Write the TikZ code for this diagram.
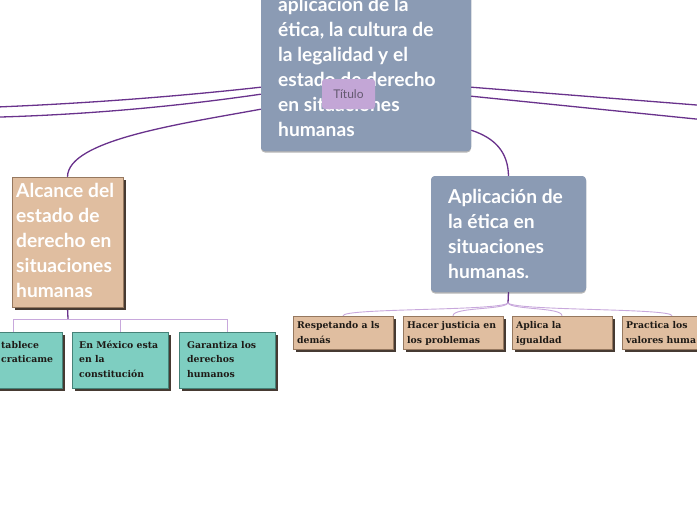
\documentclass[tikz,border=0pt]{standalone}
\usepackage{fontspec}
\newfontfamily\headfont{Lato}
\newfontfamily\leaffont{DejaVu Serif}
\usetikzlibrary{calc,shadows}
\definecolor{slate}{RGB}{139,155,180}
\definecolor{tanfill}{RGB}{224,190,160}
\definecolor{tanedge}{RGB}{150,120,95}
\definecolor{tealfill}{RGB}{126,206,193}
\definecolor{tealedge}{RGB}{70,130,120}
\definecolor{shadowc}{RGB}{70,58,50}
\definecolor{lineviolet}{RGB}{105,50,140}
\definecolor{lightviolet}{RGB}{200,168,220}
\definecolor{tagfill}{RGB}{195,166,214}
\definecolor{tagtext}{RGB}{100,90,112}
\definecolor{leafink}{RGB}{30,26,22}
\tikzset{
  slatebox/.style={fill=slate, rounded corners=4pt, draw=none, inner sep=0pt,
    drop shadow={shadow xshift=0pt, shadow yshift=-1.5pt, opacity=0.15, fill=black}},
  tanbig/.style={fill=tanfill, draw=tanedge, line width=0.5pt, inner sep=0pt,
    drop shadow={shadow xshift=3pt, shadow yshift=-3pt, opacity=1, fill=shadowc}},
  tanleaf/.style={fill=tanfill, draw=tanedge, line width=0.5pt, inner sep=0pt,
    drop shadow={shadow xshift=2.5pt, shadow yshift=-2.5pt, opacity=1, fill=shadowc}},
  tealleaf/.style={fill=tealfill, draw=tealedge, line width=0.5pt, inner sep=0pt,
    drop shadow={shadow xshift=2.5pt, shadow yshift=-2.5pt, opacity=1, fill=shadowc}},
  tagbox/.style={fill=tagfill, rounded corners=3pt, inner sep=0pt, text=tagtext,
    font={\headfont\fontsize{12}{14}\selectfont}},
  mainline/.style={draw=lineviolet, line width=1.3pt},
  branch/.style={draw=lightviolet, line width=0.9pt},
  headtxt/.style={font={\headfont\bfseries\fontsize{19.2}{25}\selectfont}, text=white, anchor=base west, inner sep=0pt},
  leaftxt/.style={font={\leaffont\bfseries\fontsize{9.3}{14}\selectfont}, text=leafink, anchor=base west, inner sep=0pt},
}
\begin{document}
\begin{tikzpicture}[x=1pt,y=-1pt]
\clip (0,0) rectangle (697,520);
\fill[white] (0,0) rectangle (697,520);

% main boxes
\node[slatebox, minimum width=210pt, minimum height=181pt] (central) at (366,60.5) {};
\node[tanbig, minimum width=111pt, minimum height=130pt] (alcance) at (67.5,242) {};
\node[slatebox, minimum width=155pt, minimum height=116pt] (aplic) at (508.5,234) {};

% off-canvas ends and hubs
\coordinate (offL1) at (-60,109);
\coordinate (offL2) at (-60,118);
\coordinate (offR1) at (760,110);
\coordinate (offR2) at (760,125.5);
\coordinate (hubL) at (68,319);
\coordinate (hubR) at (508,303);

% leaves
\node[tealleaf, minimum width=97pt, minimum height=56pt] (t1) at (13.5,360) {};
\node[tealleaf, minimum width=96pt, minimum height=56pt] (t2) at (120,360) {};
\node[tealleaf, minimum width=96pt, minimum height=56pt] (t3) at (227,360) {};
\node[tanleaf, minimum width=100pt, minimum height=33pt] (r1) at (343,332.5) {};
\node[tanleaf, minimum width=100pt, minimum height=33pt] (r2) at (453,332.5) {};
\node[tanleaf, minimum width=100pt, minimum height=33pt] (r3) at (562,332.5) {};
\node[tanleaf, minimum width=100pt, minimum height=33pt] (r4) at (672,332.5) {};

% connectors
\draw[mainline] ($(central.south west)+(0,-64)$) .. controls (154,99) and (47,106) .. (offL1);
\draw[mainline] ($(central.south west)+(0,-57)$) .. controls (154,109.7) and (47,117.7) .. (offL2);
\draw[mainline] ($(central.south west)+(0,-42)$) .. controls (180,124) and (68,140) .. (alcance.north);
\draw[mainline] ($(central.south east)+(0,-64)$) -- (offR1);
\draw[mainline] ($(central.south east)+(0,-55)$) -- (offR2);
\draw[mainline] ($(central.south east)+(0,-21)$) .. controls (495,138) and (508,152) .. (aplic.north);

\draw[mainline] (alcance.south) -- (hubL);
\draw[branch] (hubL) -| (t1.north);
\draw[branch] (hubL) -| (t2.north);
\draw[branch] (hubL) -| (t3.north);

\draw[mainline] (aplic.south) -- (hubR);
\draw[branch] (hubR) .. controls (500,311) and (343,308) .. (r1.north);
\draw[branch] (hubR) .. controls (505,310) and (453,307) .. (r2.north);
\draw[branch] (hubR) .. controls (511,310) and (562,307) .. (r3.north);
\draw[branch] (hubR) .. controls (516,311) and (672,308) .. (r4.north);

% redraw boxes on top of connector ends
\node[slatebox, minimum width=210pt, minimum height=181pt] at (central) {};
\node[tanbig, minimum width=111pt, minimum height=130pt] at (alcance) {};
\node[slatebox, minimum width=155pt, minimum height=116pt] at (aplic) {};

% central text
\node[headtxt] (c1) at (278,11) {aplicación de la};
\node[headtxt] (c2) at (278,36) {ética, la cultura de};
\node[headtxt] (c3) at (278,61) {la legalidad y el};
\node[headtxt] (c4) at (278,86) {estado de derecho};
\node[headtxt] (c5) at (278,111) {en situaciones};
\node[headtxt] (c6) at (278,136) {humanas};
\node[tagbox, minimum width=53pt, minimum height=30pt] (tag) at (348.5,94) {Título};

% alcance text
\node[headtxt] (a1) at (16,197) {Alcance del};
\node[headtxt] (a2) at (16,222.5) {estado de};
\node[headtxt] (a3) at (16,247.5) {derecho en};
\node[headtxt] (a4) at (16,272.5) {situaciones};
\node[headtxt] (a5) at (16,297.5) {humanas};

% aplicacion text
\node[headtxt] (p1) at (448,203) {Aplicación de};
\node[headtxt] (p2) at (448,228) {la ética en};
\node[headtxt] (p3) at (448,253) {situaciones};
\node[headtxt] (p4) at (448,278) {humanas.};

% leaf texts
\node[leaftxt] (t1a) at (1,348) {tablece};
\node[leaftxt] (t1b) at (1,362.5) {craticame};
\node[leaftxt] (t2a) at (79,348) {En México esta};
\node[leaftxt] (t2b) at (79,362.5) {en la};
\node[leaftxt] (t2c) at (79,377) {constitución};
\node[leaftxt] (t3a) at (187,348) {Garantiza los};
\node[leaftxt] (t3b) at (187,362.5) {derechos};
\node[leaftxt] (t3c) at (187,377) {humanos};

\node[leaftxt] (r1a) at (297,328) {Respetando a ls};
\node[leaftxt] (r1b) at (297,343) {demás};
\node[leaftxt] (r2a) at (407,328) {Hacer justicia en};
\node[leaftxt] (r2b) at (407,343) {los problemas};
\node[leaftxt] (r3a) at (516,328) {Aplica la};
\node[leaftxt] (r3b) at (516,343) {igualdad};
\node[leaftxt] (r4a) at (626,328) {Practica los};
\node[leaftxt] (r4b) at (626,343) {valores huma};
\end{tikzpicture}
\end{document}
